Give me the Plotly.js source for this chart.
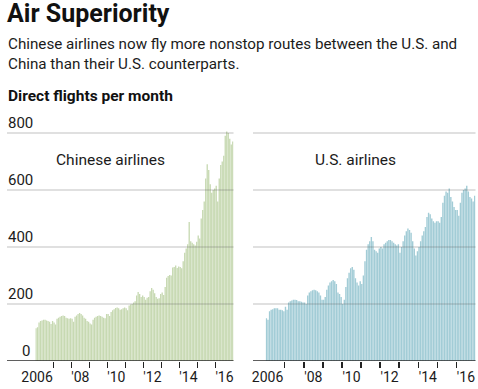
<!DOCTYPE html>
<html>
<head>
<meta charset="utf-8">
<script src="https://cdn.plot.ly/plotly-3.0.1.min.js"></script>
<style>
html,body{margin:0;padding:0;background:#fff;}
#chart{width:478px;height:389px;}
</style>
</head>
<body>
<div id="chart"></div>
<script>
// ---- data ----
const years = [2006,2007,2008,2009,2010,2011,2012,2013,2014,2015,2016];
const months = [1,2,3,4,5,6,7,8,9,10,11,12];
// Direct flights per month, Chinese airlines (Jan 2006 - Dec 2016)
const chinese = [
  115,118,135,140,142,145,145,142,140,138,130,140,   // 2006
  135,128,148,152,155,158,160,158,152,150,148,150,   // 2007
  148,138,155,160,165,168,165,160,152,148,140,138,   // 2008
  132,128,145,152,155,158,160,158,155,152,150,165,   // 2009
  165,158,172,178,182,186,188,185,180,182,185,188,   // 2010
  185,178,195,198,200,205,210,230,242,235,225,230,   // 2011
  225,215,222,225,245,256,250,238,225,218,220,235,   // 2012
  240,232,260,292,298,302,300,328,330,335,326,332,   // 2013
  330,325,350,380,395,410,488,420,415,410,405,418,   // 2014
  440,430,500,530,560,640,690,670,620,590,600,605,   // 2015
  615,560,640,688,700,720,790,805,800,780,760,770    // 2016
];
// Direct flights per month, U.S. airlines (Jan 2006 - Dec 2016)
const us = [
  150,145,175,180,182,185,185,185,180,180,178,175,   // 2006
  190,180,205,210,212,215,215,214,210,210,208,205,   // 2007
  205,200,230,240,245,248,250,248,245,240,230,215,   // 2008
  215,225,250,265,275,280,284,280,270,240,235,225,   // 2009
  200,215,260,290,310,325,330,320,290,275,265,280,   // 2010
  270,300,350,390,410,420,435,420,390,385,380,395,   // 2011
  400,395,410,415,420,425,425,420,415,410,405,410,   // 2012
  380,400,420,440,455,465,460,450,420,395,370,385,   // 2013
  400,420,440,455,470,505,520,515,500,490,485,490,   // 2014
  490,485,505,555,580,595,590,605,575,560,540,530,   // 2015
  530,510,555,590,600,605,615,595,575,570,560,580    // 2016
];
const yTicks = [0,200,400,600,800];
const xLabelYears = [2006,2008,2010,2012,2014,2016];
const xLabels = ['2006',"'08","'10","'12","'14","'16"];
const panelNames = ['Chinese airlines','U.S. airlines'];

// ---- derived ----
const xPos = [];
years.forEach(y => months.forEach(m => xPos.push(y + (m - 0.5) / 12)));
const labelPos = xLabelYears.map(y => y === years[0] ? y + 0.1 : y + 0.5);
const boundaries = years.slice(1);

const W = 478, H = 389;
const px = v => v / W;
const py = v => (H - v) / H;
const FONT = 'Roboto, "Liberation Sans", Arial, sans-serif';
const TXT = '#1b1b1b';

const traces = [
  {type:'bar', x:xPos, y:chinese, xaxis:'x', yaxis:'y',
   marker:{color:'#c7d9b2', line:{width:0}}, hoverinfo:'x+y'},
  {type:'bar', x:xPos, y:us, xaxis:'x2', yaxis:'y2',
   marker:{color:'#a2ccd6', line:{width:0}}, hoverinfo:'x+y'}
];

const xCommon = {
  range:[years[0], years[years.length-1] + 1],
  showgrid:false, zeroline:false, showline:false,
  tickmode:'array', tickvals:labelPos, ticktext:xLabels,
  ticks:'', ticklabelstandoff:6, tickfont:{family:FONT, size:14, color:TXT},
  minor:{tickmode:'array', tickvals:boundaries, ticks:'outside', ticklen:6,
         tickwidth:1.5, tickcolor:'#222', showgrid:false},
  fixedrange:true
};
const yCommon = {
  range:[0, 820], showgrid:false, zeroline:false, showline:false,
  showticklabels:false, ticks:'', fixedrange:true,
  domain:[py(361), py(361 - 820 * 0.285)]
};

const layout = {
  width:W, height:H,
  margin:{l:0, r:0, t:0, b:0},
  paper_bgcolor:'#fff', plot_bgcolor:'rgba(0,0,0,0)',
  showlegend:false, bargap:0.12,
  font:{family:FONT, color:TXT},
  title:{text:'Air Superiority', font:{family:FONT, size:25, weight:700, color:'#111'},
         xref:'paper', x:px(7), xanchor:'left',
         yref:'container', y:1 - 4/H, yanchor:'top', pad:{t:0,b:0,l:0,r:0}},
  xaxis:Object.assign({}, xCommon, {domain:[px(35.3), px(233.5)], anchor:'y'}),
  yaxis:Object.assign({}, yCommon, {anchor:'x'}),
  xaxis2:Object.assign({}, xCommon, {domain:[px(265.6), px(475.5)], anchor:'y2'}),
  yaxis2:Object.assign({}, yCommon, {anchor:'x2'}),
  shapes:[], annotations:[]
};

// gridlines and baselines (drawn over bars, extending left of plot area)
[['y', 7, 233.5], ['y2', 253, 475.5]].forEach(([yr, x0, x1]) => {
  yTicks.forEach(v => {
    layout.shapes.push({type:'line', xref:'paper', yref:yr, x0:px(x0), x1:px(x1), y0:v, y1:v,
      layer:'above',
      line: v === 0 ? {color:'#2a2a2a', width:1.5} : {color:'rgba(90,90,90,0.38)', width:1}});
  });
});

// y labels (left panel only)
yTicks.forEach(v => {
  if (v === 0) {
    layout.annotations.push({xref:'paper', yref:'y', x:px(32), y:v, xanchor:'right', yanchor:'bottom',
      text:String(v), showarrow:false, font:{size:15, color:TXT}, yshift:-1});
  } else {
    layout.annotations.push({xref:'paper', yref:'y', x:px(6), y:v, xanchor:'left', yanchor:'bottom',
      text:String(v), showarrow:false, font:{size:15, color:TXT}, yshift:-1});
  }
});

// panel names
layout.annotations.push({xref:'paper', yref:'y', x:px(110), y:705, xanchor:'center', yanchor:'middle',
  text:panelNames[0], showarrow:false, font:{size:15.5, color:TXT}});
layout.annotations.push({xref:'paper', yref:'y2', x:px(355), y:705, xanchor:'center', yanchor:'middle',
  text:panelNames[1], showarrow:false, font:{size:15.5, color:TXT}});

// subtitle and unit label
layout.annotations.push({xref:'paper', yref:'paper', x:px(6), y:py(33), xanchor:'left', yanchor:'top',
  align:'left', showarrow:false, font:{size:15.2, color:TXT},
  text:'Chinese airlines now fly more nonstop routes between the U.S. and<br>China than their U.S. counterparts.'});
layout.annotations.push({xref:'paper', yref:'paper', x:px(6), y:py(85), xanchor:'left', yanchor:'top',
  align:'left', showarrow:false, font:{size:15.5, weight:700, color:'#111'},
  text:'Direct flights per month'});

Plotly.newPlot('chart', traces, layout, {displayModeBar:false, staticPlot:true});
</script>
</body>
</html>
